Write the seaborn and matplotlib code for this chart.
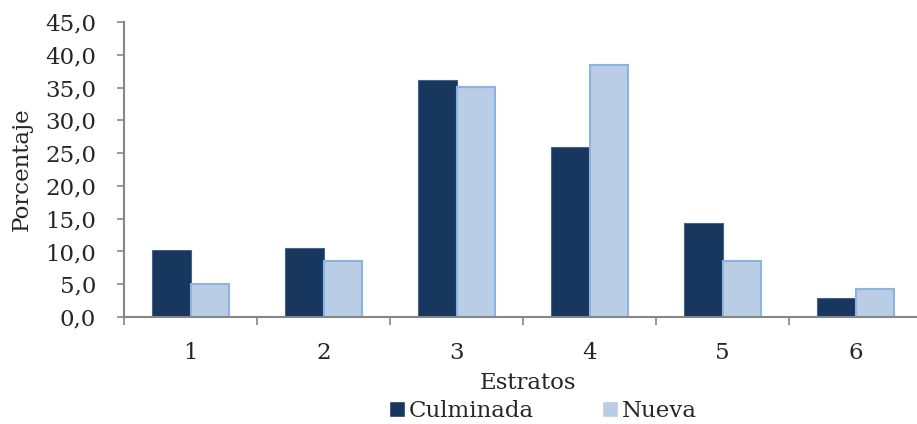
import pandas as pd
import seaborn as sns
import matplotlib.pyplot as plt

estratos = ['1', '2', '3', '4', '5', '6']
culminada = [10.2, 10.5, 36.1, 26.0, 14.4, 2.9]
nueva = [5.0, 8.6, 35.1, 38.4, 8.6, 4.3]
series = ['Culminada', 'Nueva']
y_ticks = [0, 5, 10, 15, 20, 25, 30, 35, 40, 45]

fill_colors = {'Culminada': '#17375E', 'Nueva': '#B9CDE5'}
edge_colors = {'Culminada': '#4A6284', 'Nueva': '#8DB3E2'}

df = pd.DataFrame({
    'Estratos': estratos * 2,
    'Serie': ['Culminada'] * len(estratos) + ['Nueva'] * len(estratos),
    'Porcentaje': culminada + nueva,
})

sns.set_style('white')
plt.rcParams['font.family'] = ['DejaVu Serif', 'DejaVu Sans']

fig = plt.figure(figsize=(9.17, 4.24), dpi=100)
ax = fig.add_axes([124 / 917, 1 - 317 / 424, 793 / 917, 295 / 424])

sns.barplot(data=df, x='Estratos', y='Porcentaje', hue='Serie', order=estratos,
            hue_order=series, palette=fill_colors, width=0.58, saturation=1,
            legend=True, ax=ax)

for cont, name in zip(ax.containers, series):
    for bar in cont:
        bar.set_edgecolor(edge_colors[name])
        bar.set_linewidth(1.5 if name == 'Nueva' else 0.8)

ax.set_ylim(0, 45)
ax.set_xlim(-0.5, 5.46)
ax.set_yticks(y_ticks)
ax.set_yticklabels([f'{v:.1f}'.replace('.', ',') for v in y_ticks], fontsize=16.5)

# category ticks sit between groups
ax.set_xticks([i - 0.5 for i in range(len(estratos))])
ax.set_xticklabels([])
ax.set_xticks(range(len(estratos)), minor=True)
ax.set_xticklabels(estratos, minor=True, fontsize=16.5)
ax.tick_params(axis='x', which='major', direction='out', length=6, width=1.2,
               color='#868686', bottom=True)
ax.tick_params(axis='x', which='minor', length=0, pad=18)
ax.tick_params(axis='y', direction='out', length=5, width=1.2, color='#868686',
               left=True, pad=15)

for sp in ['top', 'right']:
    ax.spines[sp].set_visible(False)
for sp in ['left', 'bottom']:
    ax.spines[sp].set_color('#868686')
    ax.spines[sp].set_linewidth(1.5)

ax.set_xlabel('Estratos', fontsize=16.5)
ax.set_ylabel('Porcentaje', fontsize=16.5)
ax.xaxis.set_label_coords((528 - 124) / 793, -0.185)
ax.yaxis.set_label_coords(-(124 - 33) / 793, 0.5)

ax.legend(loc='upper center', bbox_to_anchor=((543 - 124) / 793, -0.25), ncol=2,
          frameon=False, fontsize=16.5, handlelength=0.7, handleheight=0.7,
          handletextpad=0.15, columnspacing=3.0, borderaxespad=0)

plt.savefig('out.png', dpi=100)
plt.close()
